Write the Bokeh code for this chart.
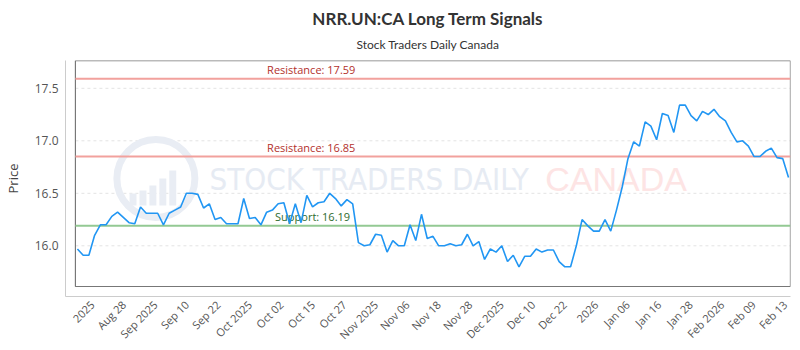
import math
from bokeh.plotting import figure
from bokeh.models import Range1d, FixedTicker, Title
from bokeh.core.properties import value
from bokeh.embed import file_html
from bokeh.resources import INLINE

# ---- data ----
prices = [15.97, 15.91, 15.91, 16.10, 16.20, 16.20, 16.28, 16.32, 16.27, 16.22,
          16.21, 16.37, 16.31, 16.31, 16.31, 16.20, 16.31, 16.34, 16.37, 16.50,
          16.50, 16.49, 16.36, 16.40, 16.25, 16.27, 16.21, 16.21, 16.21, 16.45,
          16.26, 16.27, 16.20, 16.32, 16.34, 16.40, 16.41, 16.21, 16.40, 16.22,
          16.48, 16.37, 16.41, 16.42, 16.50, 16.45, 16.38, 16.44, 16.40, 16.03,
          16.00, 16.01, 16.11, 16.10, 15.94, 16.05, 16.00, 16.00, 16.20, 16.05,
          16.30, 16.07, 16.09, 16.00, 16.00, 16.02, 16.00, 16.01, 16.11, 16.00,
          16.04, 15.87, 15.97, 15.94, 16.00, 15.85, 15.91, 15.80, 15.90, 15.90,
          15.97, 15.94, 15.96, 15.96, 15.85, 15.80, 15.80, 16.00, 16.25, 16.19,
          16.14, 16.14, 16.25, 16.14, 16.34, 16.56, 16.83, 16.99, 16.95, 17.18,
          17.14, 17.01, 17.26, 17.24, 17.08, 17.34, 17.34, 17.24, 17.19, 17.28,
          17.25, 17.30, 17.23, 17.19, 17.08, 16.99, 17.00, 16.95, 16.85, 16.85,
          16.90, 16.93, 16.84, 16.83, 16.65]
tick_labels = ["2025", "Aug 28", "Sep 2025", "Sep 10", "Sep 22", "Oct 2025", "Oct 02",
               "Oct 15", "Oct 27", "Nov 2025", "Nov 06", "Nov 18", "Nov 28", "Dec 2025",
               "Dec 10", "Dec 22", "2026", "Jan 06", "Jan 16", "Jan 28", "Feb 2026",
               "Feb 09", "Feb 13"]
resistance_levels = [17.59, 16.85]
support_levels = [16.19]
y_ticks = [16.0, 16.5, 17.0, 17.5]

title_text = "NRR.UN:CA Long Term Signals"
subtitle_text = "Stock Traders Daily Canada"

# ---- layout helpers (pixel geometry of the canvas) ----
W, H = 800, 350
FL, FR, FT, FB = 60, 790, 60, 296      # frame edges (canvas px)
BOX_L, BOX_B = 70, 286                 # inner plot box
N = len(prices)
ppi = (788 - 72) / (N - 1)             # px per index
ppu = 105.0                            # px per price unit
y_ref_px = 245.3                       # px of 16.0

def px2x(px):
    return (px - 72) / ppi

def px2y(py):
    return 16.0 - (py - y_ref_px) / ppu

xs = list(range(N))

p = figure(width=W, height=H, output_backend="svg", toolbar_location=None,
           x_range=Range1d(px2x(FL), px2x(FR)), y_range=Range1d(px2y(FB), px2y(FT)),
           min_border_left=FL, min_border_right=W - FR, min_border_top=FT,
           min_border_bottom=H - FB)
p.outline_line_color = None
p.background_fill_color = "white"
p.border_fill_color = "white"
p.xgrid.visible = False
p.ygrid.visible = False

# titles
p.title.text = title_text
p.title.align = "center"
p.title.text_font = "Lato"
p.title.text_font_style = "bold"
p.title.text_font_size = "17px"
p.title.text_color = "#333333"
p.title.standoff = 2
p.add_layout(Title(text=subtitle_text, align="center", text_font="Lato",
                   text_font_style="normal", text_font_size="12px",
                   text_color="#333333", standoff=14, vertical_align="top"), "above")

# grid lines inside the box
p.segment(x0=[px2x(BOX_L)] * len(y_ticks), x1=[px2x(FR)] * len(y_ticks),
          y0=y_ticks, y1=y_ticks, line_color="#e3e3e3", line_width=1,
          line_dash="3 3")

# watermark
p.scatter(x=[px2x(151)], y=[px2y(178)], size=78, fill_color=None,
          line_color="#e9edf4", line_width=7)
bar_px = [(128, 193), (138, 190), (148, 185), (158, 178), (168, 170)]
p.vbar(x=[px2x(b[0]) for b in bar_px], width=7 / ppi, bottom=px2y(205),
       top=[px2y(b[1]) for b in bar_px], fill_color="#e9edf4", line_color=None)
p.text(x=[px2x(205)], y=[px2y(178)], text=["STOCK TRADERS DAILY"],
       text_font=value("DejaVu Sans Condensed"), text_font_size="31px",
       text_color="#e6ebf3", text_baseline="middle", text_align="left")
p.text(x=[px2x(543)], y=[px2y(178)], text=["CANADA"],
       text_font=value("Liberation Sans"), text_font_size="34px", text_color="#fde4e4",
       text_baseline="middle", text_align="left")

# inner box
p.quad(left=[px2x(BOX_L)], right=[px2x(FR) - 0.01], bottom=[px2y(BOX_B)],
       top=[px2y(FT) - 0.001], fill_color=None, line_color="#777777", line_width=1.2)

# level lines
for lv in resistance_levels:
    p.segment(x0=[px2x(BOX_L)], x1=[px2x(FR)], y0=[lv], y1=[lv],
              line_color="#f2a19d", line_width=2)
    p.text(x=[px2x(263)], y=[lv], text=[f"Resistance: {lv:.2f}"], y_offset=-2,
           text_font=value("Open Sans"), text_font_size="11px", text_color="#b3312c",
           text_baseline="bottom", text_align="left")
for lv in support_levels:
    p.segment(x0=[px2x(BOX_L)], x1=[px2x(FR)], y0=[lv], y1=[lv],
              line_color="#93c993", line_width=2)
    p.text(x=[px2x(271)], y=[lv], text=[f"Support: {lv:.2f}"], y_offset=-2,
           text_font=value("Open Sans"), text_font_size="11px", text_color="#2e6b2e",
           text_baseline="bottom", text_align="left")

# price line
p.line(xs, prices, line_color="#2196f3", line_width=1.6)

# axes
step = 31.7 / ppi
first = px2x(87)
ticks = [first + i * step for i in range(len(tick_labels))]
p.xaxis.ticker = FixedTicker(ticks=ticks)
p.xaxis.major_label_overrides = {t: lab for t, lab in zip(ticks, tick_labels)}
p.xaxis.major_label_orientation = math.pi / 4
p.yaxis.ticker = FixedTicker(ticks=y_ticks)
p.yaxis.major_label_overrides = {t: f"{t:.1f}" for t in y_ticks}
for ax in (p.xaxis[0], p.yaxis[0]):
    ax.axis_line_color = "#cccccc"
    ax.axis_line_width = 1
    ax.major_tick_line_color = None
    ax.minor_tick_line_color = None
    ax.major_tick_out = 0
    ax.major_tick_in = 0
    ax.major_label_text_font = "Open Sans"
    ax.major_label_text_color = "#555555"
p.xaxis.major_label_text_font_size = "11px"
p.xaxis.major_label_standoff = 6
p.yaxis.major_label_text_font_size = "12px"
p.yaxis.major_label_standoff = 7
p.yaxis.axis_label = "Price"
p.yaxis.axis_label_text_font = "Open Sans"
p.yaxis.axis_label_text_font_style = "normal"
p.yaxis.axis_label_text_font_size = "13px"
p.yaxis.axis_label_text_color = "#444444"
p.yaxis.axis_label_standoff = 10

open("out.html", "w").write(file_html(p, INLINE))
